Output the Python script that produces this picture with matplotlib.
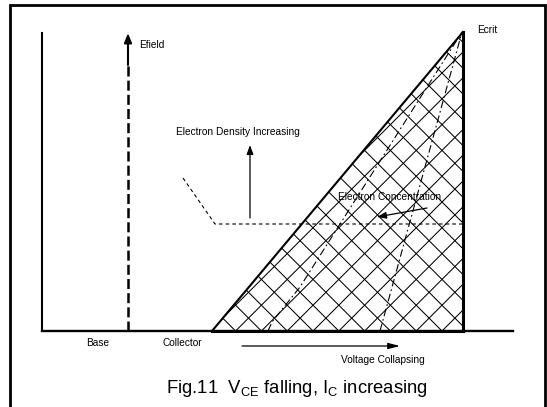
import numpy as np
import matplotlib
matplotlib.use("Agg")
from matplotlib import pyplot as plt
from matplotlib.patches import Polygon

plt.rcParams["font.family"] = ["Liberation Sans", "DejaVu Sans"]
plt.rcParams["mathtext.fontset"] = "custom"
plt.rcParams["mathtext.rm"] = "Liberation Sans"
plt.rcParams["lines.scale_dashes"] = False

# diagram geometry (x = position across the device, y = electric field)
axis_top = 298
base_end = 471
efield_x = 86
tri_x = [170, 421, 421]
tri_y = [0, 0, 299]
density_x = [141, 173, 420]
density_y = [153, 107, 107]
density_arrow = [(208, 113), (208, 186)]
conc_arrow = [(385, 123), (335, 114)]
conc_a_x = [226, 230, 258, 420]
conc_a_y = [0, 9, 44, 299]
conc_b_x = [338, 420]
conc_b_y = [0, 299]
voltage_arrow = [(200, -15), (358, -15)]
hatch_origin = 271
hatch_step = 25.8

fig = plt.figure(figsize=(5.47, 4.07), dpi=100)
ax = fig.add_axes([0, 0, 1, 1])
ax.set_xlim(-42, 505)
ax.set_ylim(-76, 331)
ax.axis("off")

# outer frame
ax.plot([-32, -32, 503, 503], [-90, 326, 326, -90], color="black", lw=2.0,
        solid_joinstyle="miter")

# axes of the sketch
ax.plot([0, 0], [0, axis_top], color="black", lw=1.5)
ax.plot([0, base_end], [0, 0], color="black", lw=1.7)

# Efield arrow (dashed shaft, solid tip)
ax.plot([efield_x, efield_x], [0, axis_top - 32], color="black", lw=1.8,
        dashes=(7.2, 3.0))
ax.annotate("", xy=(efield_x, axis_top), xytext=(efield_x, axis_top - 32),
            arrowprops=dict(arrowstyle="-|>,head_length=0.55,head_width=0.22",
                            color="black", lw=1.5, shrinkA=0, shrinkB=0))

# cross hatched triangle
tri = Polygon(list(zip(tri_x, tri_y)), closed=True, facecolor="white",
              edgecolor="none")
ax.add_patch(tri)
for k in range(-12, 30):
    c = hatch_origin + k * hatch_step
    xs = np.array([c - 400, c + 400])
    for sgn in (1, -1):
        ln, = ax.plot(xs, sgn * (xs - c), color="black", lw=0.75)
        ln.set_clip_path(tri)
ax.plot(tri_x[:2], tri_y[:2], color="black", lw=2.2)
ax.plot([tri_x[0], tri_x[2]], [tri_y[0], tri_y[2]], color="black", lw=1.5)
ax.plot(tri_x[1:], tri_y[1:], color="black", lw=2.2)

# electron concentration profiles
ax.plot(conc_a_x, conc_a_y, color="black", lw=0.8, dashes=(5.5, 2.2, 1.2, 2.2))
ax.plot(conc_b_x, conc_b_y, color="black", lw=0.8, dashes=(5.5, 2.2, 1.2, 2.2))

# electron density level
ax.plot(density_x, density_y, color="black", lw=0.8, dashes=(2.6, 2.2))
ax.annotate("", xy=density_arrow[1], xytext=density_arrow[0],
            arrowprops=dict(arrowstyle="-|>,head_length=0.55,head_width=0.2",
                            color="black", lw=0.9, shrinkA=0, shrinkB=0))
ax.annotate("", xy=conc_arrow[1], xytext=conc_arrow[0],
            arrowprops=dict(arrowstyle="-|>,head_length=0.55,head_width=0.2",
                            color="black", lw=0.9, shrinkA=0, shrinkB=0))
ax.annotate("", xy=voltage_arrow[1], xytext=voltage_arrow[0],
            arrowprops=dict(arrowstyle="-|>,head_length=0.7,head_width=0.18",
                            color="black", lw=0.9, shrinkA=0, shrinkB=0))

# labels
fs = 7.3
ax.text(97, 283, "Efield", fontsize=fs, va="baseline", ha="left")
ax.text(435, 298, "Ecrit", fontsize=fs, va="baseline", ha="left")
ax.text(134, 196, "Electron Density Increasing", fontsize=fs, va="baseline", ha="left")
ax.text(296, 131, "Electron Concentration", fontsize=fs, va="baseline", ha="left")
ax.text(56, -15.5, "Base", fontsize=fs, va="baseline", ha="center")
ax.text(140.5, -15, "Collector", fontsize=fs, va="baseline", ha="center")
ax.text(340.5, -32, "Voltage Collapsing", fontsize=fs, va="baseline", ha="center")
ax.text(255, -62, r"Fig.11  V$_{\mathrm{CE}}$ falling, I$_{\mathrm{C}}$ increasing",
        fontsize=13.3, va="baseline", ha="center")

fig.savefig("out.png", dpi=100)
